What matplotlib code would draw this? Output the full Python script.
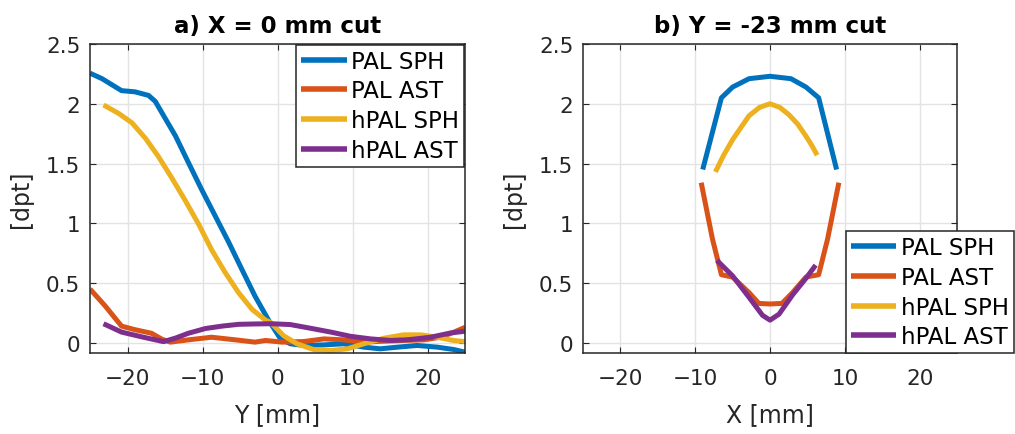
import numpy as np
import matplotlib.pyplot as plt

# a) X = 0 mm cut, values along Y
a_sph_pal_y = [-25, -23.4, -22.1, -20.8, -19.0, -17.2, -16.3, -15.0, -13.6, -11.9, -10.1, -8.3, -6.5, -4.8,
               -3.0, -1.2, 0.4, 1.7, 3.5, 6.2, 8.8, 11.5, 13.7, 16.0, 18.6, 21.3, 23.5, 25]
a_sph_pal = [2.256, 2.21, 2.16, 2.11, 2.10, 2.07, 2.02, 1.88, 1.73, 1.51, 1.28, 1.06, 0.84, 0.62,
             0.39, 0.19, 0.033, -0.008, -0.022, -0.017, -0.008, -0.036, -0.05, -0.036, -0.022, -0.036, -0.056, -0.078]

a_ast_pal_y = [-25, -23.0, -20.8, -19.0, -16.8, -15.4, -14.3, -11.9, -8.8, -5.6, -3.0, -1.6, 0.6, 3.5, 6.2,
               8.8, 11.5, 14.2, 16.8, 19.5, 21.7, 23.5, 25]
a_ast_pal = [0.45, 0.31, 0.14, 0.11, 0.08, 0.03, 0.006, 0.025, 0.047, 0.025, 0.006, 0.02, 0.006, 0.011, 0.033,
             0.025, 0.006, 0.014, 0.02, 0.025, 0.047, 0.089, 0.13]

a_sph_hpal_y = [-23.2, -21.2, -19.4, -17.6, -15.9, -14.1, -12.3, -10.5, -8.8, -7.0, -5.2, -3.4, -1.6, -0.9,
                0.8, 2.6, 4.8, 7.1, 9.3, 11.5, 14.2, 16.8, 19.1, 21.3, 23.5, 25]
a_sph_hpal = [1.99, 1.92, 1.84, 1.71, 1.56, 1.38, 1.19, 0.99, 0.78, 0.59, 0.42, 0.28, 0.19, 0.17,
              0.06, -0.008, -0.056, -0.064, -0.05, -0.008, 0.039, 0.067, 0.067, 0.047, 0.019, 0.011]

a_ast_hpal_y = [-23.2, -20.8, -18.1, -15.2, -13.6, -11.9, -9.6, -7.4, -5.2, -3.0, -0.9, 1.7, 4.4, 7.1, 9.7,
                12.4, 15.1, 17.7, 20.4, 23.1, 25]
a_ast_hpal = [0.16, 0.09, 0.05, 0.01, 0.04, 0.08, 0.12, 0.14, 0.155, 0.158, 0.160, 0.153, 0.122, 0.09, 0.055,
              0.033, 0.02, 0.028, 0.047, 0.083, 0.097]

# b) Y = -23 mm cut, values along X
b_sph_pal_x = [-9.0, -6.5, -5.0, -2.8, 0.0, 2.8, 4.8, 6.5, 8.9]
b_sph_pal = [1.45, 2.05, 2.14, 2.21, 2.23, 2.21, 2.14, 2.05, 1.45]

b_ast_pal_x = [-9.2, -7.7, -6.5, -5.0, -2.8, -1.5, 0.0, 1.6, 3.0, 4.8, 6.5, 7.7, 9.2]
b_ast_pal = [1.34, 0.87, 0.57, 0.55, 0.42, 0.33, 0.325, 0.33, 0.42, 0.55, 0.57, 0.87, 1.34]

b_sph_hpal_x = [-7.3, -6.2, -5.0, -3.8, -2.8, -1.4, 0.0, 1.3, 2.5, 3.7, 4.8, 5.6, 6.3]
b_sph_hpal = [1.43, 1.57, 1.70, 1.81, 1.90, 1.97, 2.00, 1.97, 1.91, 1.83, 1.73, 1.65, 1.57]

b_ast_hpal_x = [-7.1, -5.0, -2.8, -1.0, 0.0, 1.2, 3.0, 4.8, 6.1]
b_ast_hpal = [0.69, 0.56, 0.38, 0.23, 0.19, 0.24, 0.40, 0.54, 0.65]

labels = ['PAL SPH', 'PAL AST', 'hPAL SPH', 'hPAL AST']
colors = ['#0072BD', '#D95319', '#EDB120', '#7E2F8E']
ticks_x = [-20, -10, 0, 10, 20]
ticks_y = [0, 0.5, 1, 1.5, 2, 2.5]
tick_labels_y = ['0', '0.5', '1', '1.5', '2', '2.5']

plt.rcParams['font.family'] = 'DejaVu Sans'
fig = plt.figure(figsize=(10.15, 4.35), dpi=100)
ax1 = fig.add_axes([0.0887, 0.1862, 0.3695, 0.7103])
ax2 = fig.add_axes([0.5744, 0.1862, 0.3685, 0.7103])

series_a = [(a_sph_pal_y, a_sph_pal), (a_ast_pal_y, a_ast_pal), (a_sph_hpal_y, a_sph_hpal), (a_ast_hpal_y, a_ast_hpal)]
series_b = [(b_sph_pal_x, b_sph_pal), (b_ast_pal_x, b_ast_pal), (b_sph_hpal_x, b_sph_hpal), (b_ast_hpal_x, b_ast_hpal)]

dark = '#262626'
for ax, series, title, xlabel in [(ax1, series_a, 'a) X = 0 mm cut', 'Y [mm]'),
                                  (ax2, series_b, 'b) Y = -23 mm cut', 'X [mm]')]:
    for (x, y), c, lab in zip(series, colors, labels):
        ax.plot(x, y, color=c, lw=3.6, label=lab, solid_capstyle='butt', solid_joinstyle='round')
    ax.set_xlim(-25, 25)
    ax.set_ylim(-0.085, 2.5)
    ax.set_xticks(ticks_x)
    ax.set_yticks(ticks_y)
    ax.set_yticklabels(tick_labels_y)
    ax.grid(True, color='#e3e3e3', lw=1)
    ax.set_axisbelow(True)
    ax.tick_params(direction='in', top=True, right=True, labelsize=15.5, colors=dark, length=4)
    ax.tick_params(axis='x', pad=11)
    ax.tick_params(axis='y', pad=7)
    for s in ax.spines.values():
        s.set_color(dark)
        s.set_linewidth(1.1)
    ax.set_title(title, fontsize=16.5, fontweight='bold', pad=9)
    ax.set_xlabel(xlabel, fontsize=17, color=dark, labelpad=10)
    ax.set_ylabel('[dpt]', fontsize=17, color=dark, labelpad=9)

leg_kw = dict(fontsize=16.5, frameon=True, fancybox=False, edgecolor=dark, framealpha=1,
              handlelength=2.0, handletextpad=0.2, borderpad=0.2, labelspacing=0.3, borderaxespad=0)
l1 = ax1.legend(loc='upper right', bbox_to_anchor=(0.997, 0.997), **leg_kw)
l2 = ax2.legend(loc='lower left', bbox_to_anchor=(0.703, 0.0), **leg_kw)
for l in (l1, l2):
    l.get_frame().set_linewidth(1.1)
    for line in l.get_lines():
        line.set_linewidth(4)

fig.savefig('out.png', dpi=100)
